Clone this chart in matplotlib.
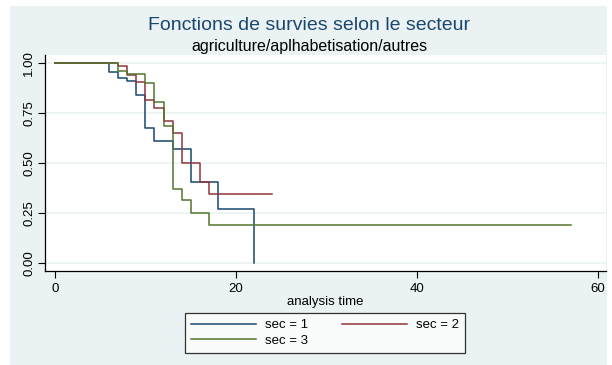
import matplotlib
matplotlib.use("Agg")
import matplotlib.pyplot as plt

plt.rcParams['font.family'] = ['Liberation Sans', 'DejaVu Sans']

title = "Fonctions de survies selon le secteur"
subtitle = "agriculture/aplhabetisation/autres"
xlabel = "analysis time"

t1 = [0, 6, 7, 8, 9, 10, 11, 13, 15, 18, 22]
s1 = [1.0, 0.958, 0.926, 0.91, 0.843, 0.678, 0.613, 0.57, 0.407, 0.27, 0.0]
t2 = [0, 7, 8, 9, 10, 11, 12, 13, 14, 16, 17, 24]
s2 = [1.0, 0.985, 0.943, 0.906, 0.818, 0.775, 0.713, 0.65, 0.503, 0.407, 0.345, 0.345]
t3 = [0, 7, 8, 10, 11, 12, 13, 14, 15, 17, 57]
s3 = [1.0, 0.96, 0.946, 0.90, 0.808, 0.687, 0.371, 0.317, 0.253, 0.19, 0.19]
labels = ["sec = 1", "sec = 2", "sec = 3"]
colors = ["#1a476f", "#90353b", "#55752f"]

xticks = [0, 20, 40, 60]
yticks = [0.0, 0.25, 0.5, 0.75, 1.0]
yticklabels = ["0.00", "0.25", "0.50", "0.75", "1.00"]

W, H = 612, 365
fig = plt.figure(figsize=(W / 100, H / 100), dpi=100)
fig.patch.set_facecolor("white")

bg = fig.add_axes([10 / W, 0, 597 / W, 1 - 6 / H], zorder=-10)
bg.set_facecolor("#eaf2f3")
bg.set_xticks([])
bg.set_yticks([])
for sp in bg.spines.values():
    sp.set_visible(False)

ax = fig.add_axes([45 / W, 1 - 271 / H, 561 / W, 216 / H], zorder=1)
ax.set_facecolor("white")
handles = []
for (t, s, lab, c) in zip([t1, t2, t3], [s1, s2, s3], labels, colors):
    h, = ax.step(t, s, where="post", color=c, lw=1.1, label=lab)
    handles.append(h)

ax.set_xlim(-1.1, 60.9)
ax.set_ylim(-0.0385, 1.0415)
ax.set_xticks(xticks)
ax.set_yticks(yticks)
ax.set_yticklabels(yticklabels, rotation=90, va="center")
ax.tick_params(axis="both", direction="out", length=5, width=0.8, labelsize=9.5, colors="black")
ax.tick_params(axis="y", pad=2)
ax.yaxis.grid(True, color="#eaf2f3", lw=1.2)
ax.set_axisbelow(True)
for side in ["top", "right"]:
    ax.spines[side].set_visible(False)
for side in ["left", "bottom"]:
    ax.spines[side].set_color("black")
    ax.spines[side].set_linewidth(0.9)

ax.set_xlabel(xlabel, fontsize=9.5, labelpad=1)

fig.text(309 / W, 1 - 26 / H, title, ha="center", va="center", fontsize=14, color="#1a476f")
fig.text(309 / W, 1 - 46 / H, subtitle, ha="center", va="center", fontsize=11.5, color="black")

order = [0, 2, 1]
leg = ax.legend([handles[i] for i in order], [labels[i] for i in order],
                ncol=2, loc="center", bbox_to_anchor=(325 / W, 1 - 333 / H),
                bbox_transform=fig.transFigure, fontsize=9.5, frameon=True, fancybox=False,
                edgecolor="black", handlelength=4.9, columnspacing=2.6, handletextpad=0.7,
                borderpad=0.45, labelspacing=0.25)
leg.get_frame().set_linewidth(0.9)

fig.savefig("out.png", dpi=100, facecolor=fig.get_facecolor())
